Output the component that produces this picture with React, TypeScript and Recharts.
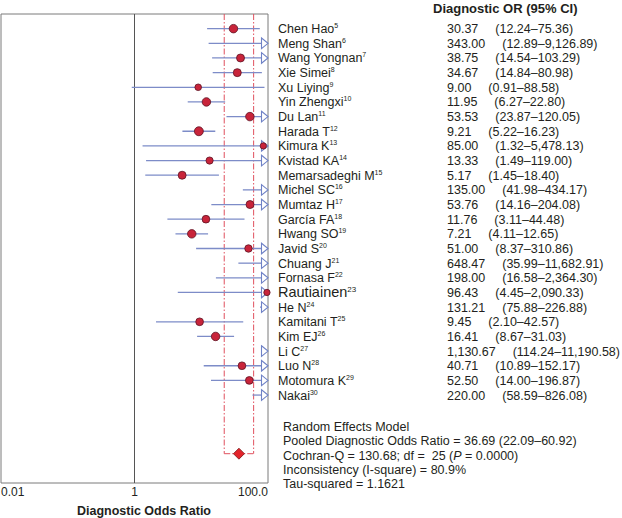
import React from 'react'
import { ScatterChart, Scatter, XAxis, YAxis, ZAxis, ErrorBar, ReferenceLine, ReferenceArea } from 'recharts'

const studies = [
  'Chen Hao', 'Meng Shan', 'Wang Yongnan', 'Xie Simei', 'Xu Liying', 'Yin Zhengxi', 'Du Lan',
  'Harada T', 'Kimura K', 'Kvistad KA', 'Memarsadeghi M', 'Michel SC', 'Mumtaz H', 'García FA',
  'Hwang SO', 'Javid S', 'Chuang J', 'Fornasa F', 'Rautiainen', 'He N', 'Kamitani T', 'Kim EJ',
  'Li C', 'Luo N', 'Motomura K', 'Nakai',
]
const refs = [5, 6, 7, 8, 9, 10, 11, 12, 13, 14, 15, 16, 17, 18, 19, 20, 21, 22, 23, 24, 25, 26, 27, 28, 29, 30]
const oddsRatio = [
  30.37, 343.0, 38.75, 34.67, 9.0, 11.95, 53.53, 9.21, 85.0, 13.33, 5.17, 135.0, 53.76, 11.76,
  7.21, 51.0, 648.47, 198.0, 96.43, 131.21, 9.45, 16.41, 1130.67, 40.71, 52.5, 220.0,
]
const ciLower = [
  12.24, 12.89, 14.54, 14.84, 0.91, 6.27, 23.87, 5.22, 1.32, 1.49, 1.45, 41.98, 14.16, 3.11,
  4.11, 8.37, 35.99, 16.58, 4.45, 75.88, 2.1, 8.67, 114.24, 10.89, 14.0, 58.59,
]
const ciUpper = [
  75.36, 9126.89, 103.29, 80.98, 88.58, 22.8, 120.05, 16.23, 5478.13, 119.0, 18.4, 434.17, 204.08, 44.48,
  12.65, 310.86, 11682.91, 2364.3, 2090.33, 226.88, 42.57, 31.03, 11190.58, 152.17, 196.87, 826.08,
]
// relative study weights (marker area)
const weights = [18, 10, 16, 16, 11, 18, 18, 20, 10, 13, 16, 17, 16, 15, 18, 14, 10, 11, 10, 20, 15, 18, 10, 15, 15, 17]

const pooled = { or: 36.69, lo: 22.09, hi: 60.92 }
const xTicks = [0.01, 1, 100]
const xTickLabels = ['0.01', '1', '100.0']

const X_MIN = 0.01
const X_MAX = 100
const POOLED_ROW = 29

const FONT = '"Liberation Sans", Arial, Helvetica, sans-serif'
const TEXT = '#231f20'
const CI_COLOR = '#7d8cc8'
const DOT_FILL = '#c8243a'
const DOT_STROKE = '#5e1424'
const RED_DASH = '#e0505e'
const FS = 12.5

const fmt = (n: number) => n.toLocaleString('en-US', { minimumFractionDigits: 2, maximumFractionDigits: 2 })

const rows = studies.map((s, i) => ({ i, s, or: oddsRatio[i], lo: ciLower[i], hi: ciUpper[i], w: weights[i] }))

const ciData = rows
  .filter((r) => r.lo < X_MAX)
  .map((r) => {
    const hi = Math.min(r.hi, X_MAX)
    return { x: r.lo, y: r.i, err: [0, hi - r.lo] }
  })
const arrowData = rows.filter((r) => r.hi > X_MAX).map((r) => ({ x: X_MAX, y: r.i }))
const dotData = rows.filter((r) => r.or <= X_MAX).map((r) => ({ x: r.or, y: r.i, w: r.w }))
const pooledData = [{ x: pooled.or, y: POOLED_ROW }]

const rowTicks = studies.map((_, i) => i)

const StudyTick = (props: any) => {
  const { x, y, payload } = props
  const i = payload.value as number
  const big = studies[i] === 'Rautiainen'
  return (
    <g fontFamily={FONT} fill={TEXT}>
      <text x={x + 10} y={y} dy={big ? 5 : 4.5} fontSize={big ? 14.5 : FS}>
        {studies[i]}
        <tspan fontSize={big ? 8 : 7} dy={-5}>{refs[i]}</tspan>
      </text>
      <text x={x + 179} y={y} dy={4.5} fontSize={FS}>
        {fmt(oddsRatio[i])}
        <tspan dx={17}>({fmt(ciLower[i])}–{fmt(ciUpper[i])})</tspan>
      </text>
    </g>
  )
}

const OrTick = (props: any) => {
  const { x, y, payload } = props
  const idx = xTicks.indexOf(payload.value)
  const anchor = idx === 0 ? 'start' : idx === xTicks.length - 1 ? 'end' : 'middle'
  return (
    <text x={x} y={y} dy={12.5} textAnchor={anchor} fontSize={12} fontFamily={FONT} fill={TEXT}>
      {xTickLabels[idx]}
    </text>
  )
}

const Arrow = (props: any) => {
  const { cx, cy } = props
  return (
    <polygon
      points={`${cx - 6.5},${cy - 5.3} ${cx},${cy} ${cx - 6.5},${cy + 5.3}`}
      fill="#fff"
      stroke="#6f82c6"
      strokeWidth={1.1}
    />
  )
}

const Diamond = (props: any) => {
  const { cx, cy } = props
  return (
    <polygon
      points={`${cx},${cy - 5.5} ${cx + 5.5},${cy} ${cx},${cy + 5.5} ${cx - 5.5},${cy}`}
      fill="#e3242b"
      stroke="#7a1414"
      strokeWidth={0.8}
    />
  )
}

const statLines = [
  'Random Effects Model',
  'Pooled Diagnostic Odds Ratio = 36.69 (22.09–60.92)',
  'COCHRAN',
  'Inconsistency (I-square) = 80.9%',
  'Tau-squared = 1.1621',
]

export default function App() {
  return (
    <div style={{ position: 'absolute', left: 0, top: 0, width: 622, height: 518, background: '#fff', fontFamily: FONT, color: TEXT }}>
      <ScatterChart width={622} height={518} margin={{ top: 14, right: 0, bottom: 0, left: 1 }}>
        <XAxis
          type="number"
          dataKey="x"
          scale="log"
          domain={[X_MIN, X_MAX]}
          ticks={xTicks}
          interval={0}
          height={35}
          axisLine={false}
          tickLine={false}
          tickSize={0}
          tickMargin={0}
          tick={<OrTick />}
        />
        <YAxis
          type="number"
          dataKey="y"
          orientation="right"
          domain={[-1, 31]}
          reversed
          ticks={rowTicks}
          interval={0}
          width={354}
          axisLine={false}
          tickLine={false}
          tickSize={0}
          tickMargin={0}
          tick={<StudyTick />}
        />
        <ZAxis type="number" dataKey="w" domain={[0, 25]} range={[0, 25 * Math.PI]} />
        <ReferenceArea x1={X_MIN} x2={X_MAX} y1={-1} y2={31} fill="none" stroke="#7a7a7a" strokeWidth={1} />
        <ReferenceLine x={1} stroke="#555" strokeWidth={1} />
        <ReferenceLine
          segment={[{ x: pooled.lo, y: -1 }, { x: pooled.lo, y: POOLED_ROW }]}
          stroke={RED_DASH}
          strokeDasharray="6 2 1.5 2"
        />
        <ReferenceLine
          segment={[{ x: pooled.hi, y: -1 }, { x: pooled.hi, y: POOLED_ROW }]}
          stroke={RED_DASH}
          strokeDasharray="6 2 1.5 2"
        />
        <ReferenceLine
          segment={[{ x: pooled.lo, y: POOLED_ROW }, { x: pooled.hi, y: POOLED_ROW }]}
          stroke={RED_DASH}
          strokeDasharray="6 2 1.5 2"
        />
        <Scatter data={ciData} shape={() => <g />} isAnimationActive={false}>
          <ErrorBar dataKey="err" direction="x" width={0} stroke={CI_COLOR} strokeWidth={1.3} isAnimationActive={false} />
        </Scatter>
        <Scatter data={arrowData} shape={<Arrow />} isAnimationActive={false} />
        <Scatter data={dotData} shape="circle" fill={DOT_FILL} stroke={DOT_STROKE} strokeWidth={0.8} isAnimationActive={false} />
        <Scatter data={pooledData} shape={<Diamond />} isAnimationActive={false} />
      </ScatterChart>

      <div style={{ position: 'absolute', left: 433, top: 2, fontSize: 13, fontWeight: 'bold', lineHeight: '14px', whiteSpace: 'nowrap' }}>
        Diagnostic OR (95% CI)
      </div>
      <div style={{ position: 'absolute', left: 283, top: 420, fontSize: FS, lineHeight: '14.3px', whiteSpace: 'pre' }}>
        {statLines.map((t) =>
          t === 'COCHRAN' ? (
            <div key={t}>
              Cochran-Q = 130.68; df =  25 (<i>P</i> = 0.0000)
            </div>
          ) : (
            <div key={t}>{t}</div>
          )
        )}
      </div>
      <div style={{ position: 'absolute', left: 44, width: 200, top: 503, textAlign: 'center', fontSize: 12.5, fontWeight: 'bold', lineHeight: '16px' }}>
        Diagnostic Odds Ratio
      </div>
    </div>
  )
}
